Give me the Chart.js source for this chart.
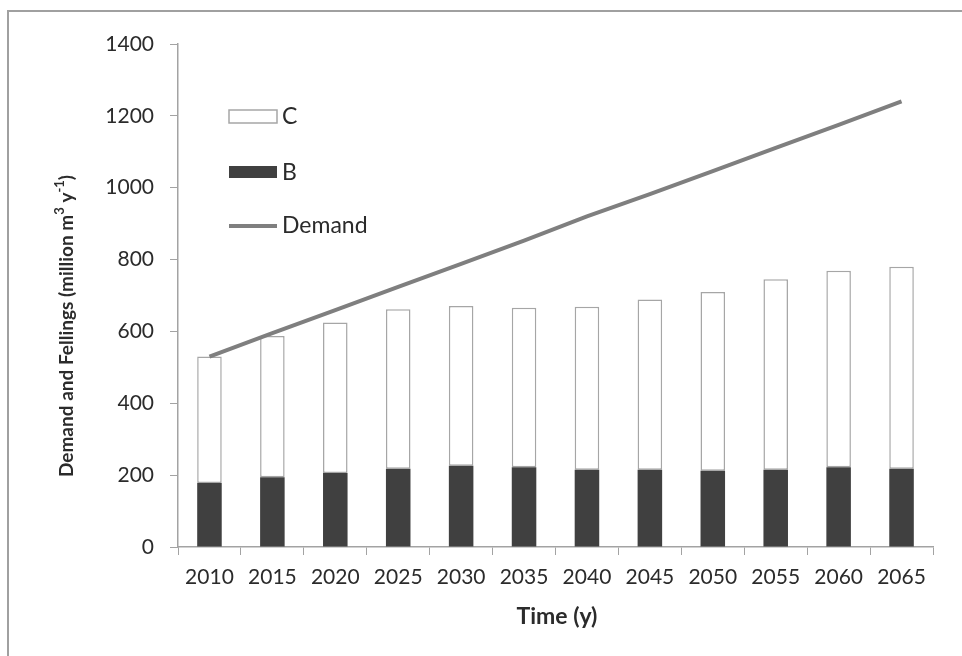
<!DOCTYPE html>
<html>
<head>
<meta charset="utf-8">
<title>Demand and Fellings</title>
<script src="https://cdn.jsdelivr.net/npm/chart.js@4/dist/chart.umd.min.js"></script>
<style>
  html, body { margin: 0; padding: 0; background: #fff; }
  #wrap { width: 962px; height: 656px; position: relative; }
</style>
</head>
<body>
<div id="wrap"><canvas id="fellingsChart"></canvas></div>
<script>
'use strict';

var years = ['2010', '2015', '2020', '2025', '2030', '2035', '2040', '2045', '2050', '2055', '2060', '2065'];
var fellingsB = [178, 194, 206, 218, 226, 222, 215, 215, 212, 215, 222, 218];
var fellingsC = [352, 393, 419, 444, 445, 444, 454, 474, 498, 530, 547, 562];
var demand = [530, 595, 659, 724, 788, 853, 920, 982, 1046, 1111, 1175, 1240];
var yTicks = [0, 200, 400, 600, 800, 1000, 1200, 1400];

var FONT = 'Lato, "Open Sans", sans-serif';
var TEXT = '#2b2b2b';
var AXIS = '#a3a3a3';

// Cadre, légende et titres des axes dessinés à la main (exposants)
var decorPlugin = {
  id: 'decor',
  beforeDraw: function (chart) {
    var ctx = chart.ctx;
    ctx.save();
    ctx.fillStyle = '#fff';
    ctx.fillRect(0, 0, chart.width, chart.height);
    ctx.strokeStyle = '#a0a0a0';
    ctx.lineWidth = 2;
    ctx.beginPath();
    ctx.moveTo(8, chart.height);
    ctx.lineTo(8, 11);
    ctx.lineTo(chart.width, 11);
    ctx.stroke();
    ctx.restore();
  },
  afterDraw: function (chart) {
    var ctx = chart.ctx;
    ctx.save();

    // légende
    ctx.fillStyle = '#fff';
    ctx.fillRect(229, 110, 48, 13);
    ctx.strokeStyle = '#a6a6a6';
    ctx.lineWidth = 1.5;
    ctx.strokeRect(229, 110, 48, 13);
    ctx.fillStyle = '#404040';
    ctx.fillRect(229, 166, 48, 12);
    ctx.strokeStyle = '#7f7f7f';
    ctx.lineWidth = 4;
    ctx.beginPath();
    ctx.moveTo(229, 226);
    ctx.lineTo(277, 226);
    ctx.stroke();

    ctx.fillStyle = TEXT;
    ctx.font = '23px ' + FONT;
    ctx.textBaseline = 'middle';
    ctx.textAlign = 'left';
    ctx.fillText('C', 282, 117);
    ctx.fillText('B', 282, 173);
    ctx.fillText('Demand', 282, 226);

    // titre axe x
    ctx.font = 'bold 23px ' + FONT;
    ctx.textAlign = 'center';
    ctx.fillText('Time (y)', 557, 617);

    // titre axe y avec exposants
    var parts = [
      { t: 'Demand and Fellings (million m', sup: false },
      { t: '3', sup: true },
      { t: ' y', sup: false },
      { t: '-1', sup: true },
      { t: ')', sup: false }
    ];
    var normal = 'bold 19px ' + FONT;
    var small = 'bold 13px ' + FONT;
    var total = 0;
    parts.forEach(function (p) {
      ctx.font = p.sup ? small : normal;
      p.w = ctx.measureText(p.t).width;
      total += p.w;
    });
    ctx.translate(67, 326);
    ctx.rotate(-Math.PI / 2);
    ctx.textAlign = 'left';
    var x = -total / 2;
    parts.forEach(function (p) {
      ctx.font = p.sup ? small : normal;
      ctx.fillText(p.t, x, p.sup ? -7 : 0);
      x += p.w;
    });
    ctx.restore();
  }
};

var ctx = document.getElementById('fellingsChart').getContext('2d');

new Chart(ctx, {
  data: {
    labels: years,
    datasets: [
      {
        type: 'bar',
        label: 'B',
        data: fellingsB,
        stack: 'fellings',
        backgroundColor: '#404040',
        borderColor: '#404040',
        borderWidth: 0,
        barPercentage: 0.39,
        categoryPercentage: 1,
        order: 1
      },
      {
        type: 'bar',
        label: 'C',
        data: fellingsC,
        stack: 'fellings',
        backgroundColor: '#ffffff',
        borderColor: '#a6a6a6',
        borderWidth: 1.5,
        borderSkipped: false,
        barPercentage: 0.39,
        categoryPercentage: 1,
        order: 2
      },
      {
        type: 'line',
        label: 'Demand',
        data: demand,
        stack: 'demand',
        borderColor: '#7f7f7f',
        borderWidth: 4,
        pointRadius: 0,
        tension: 0,
        fill: false,
        order: 0
      }
    ]
  },
  options: {
    animation: false,
    responsive: true,
    maintainAspectRatio: false,
    layout: {
      padding: { left: 0, top: 44, right: 29, bottom: 0 }
    },
    scales: {
      x: {
        stacked: true,
        afterFit: function (scale) { scale.height = 109; },
        grid: {
          offset: true,
          drawOnChartArea: false,
          drawTicks: true,
          tickLength: 8,
          tickColor: AXIS
        },
        border: { color: AXIS, width: 1.5 },
        ticks: {
          color: TEXT,
          padding: 10,
          font: { family: FONT, size: 21 }
        }
      },
      y: {
        stacked: true,
        min: 0,
        max: 1400,
        afterFit: function (scale) { scale.width = 178; },
        afterBuildTicks: function (scale) {
          scale.ticks = yTicks.map(function (v) { return { value: v }; });
        },
        grid: {
          drawOnChartArea: false,
          drawTicks: true,
          tickLength: 8,
          tickColor: AXIS
        },
        border: { color: AXIS, width: 1.5 },
        ticks: {
          color: TEXT,
          padding: 16,
          font: { family: FONT, size: 21 },
          callback: function (value) { return String(value); }
        }
      }
    },
    plugins: {
      legend: { display: false },
      tooltip: { enabled: false }
    }
  },
  plugins: [decorPlugin]
});
</script>
</body>
</html>
